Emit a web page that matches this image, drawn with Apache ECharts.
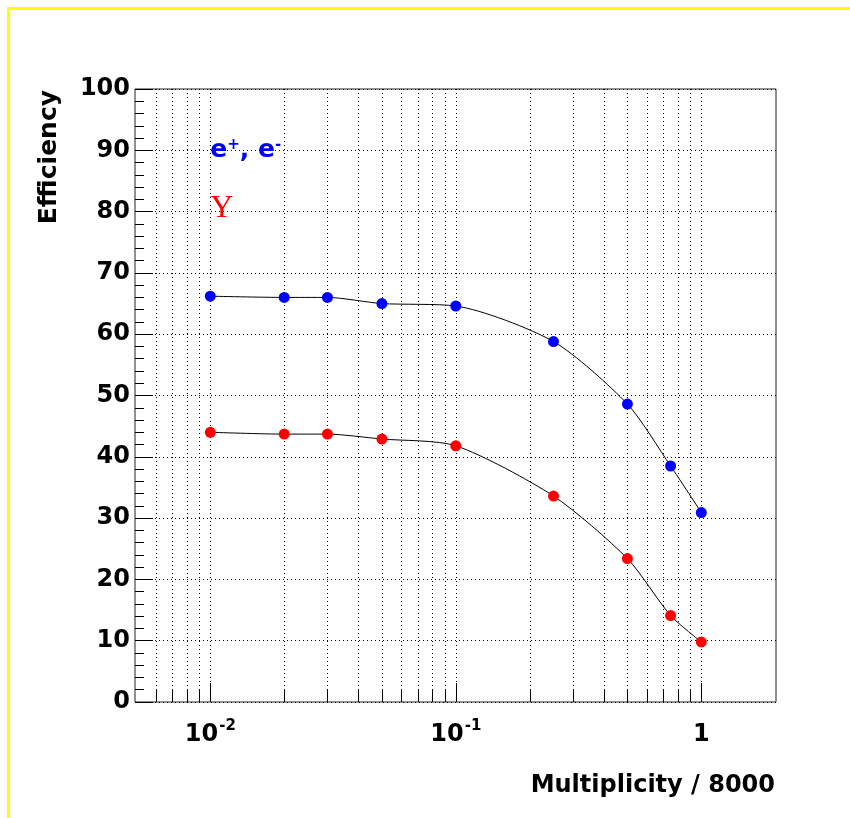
<!DOCTYPE html>
<html>
<head>
<meta charset="utf-8">
<script src="https://cdn.jsdelivr.net/npm/echarts@6/dist/echarts.min.js"></script>
<style>
  html, body { margin: 0; padding: 0; background: #ffffff; }
  #chart { width: 850px; height: 818px; }
</style>
</head>
<body>
<div id="chart"></div>
<script>
// Multiplicity (fraction of 8000) at which the efficiency was measured
const multiplicity = [0.01, 0.02, 0.03, 0.05, 0.1, 0.25, 0.5, 0.75, 1.0];
// Efficiency (%) for e+/e- and for photons
const effElectrons = [66.2, 66.0, 66.0, 65.0, 64.6, 58.8, 48.6, 38.5, 30.9];
const effPhotons   = [44.0, 43.7, 43.7, 42.9, 41.8, 33.6, 23.4, 14.1, 9.8];

// Log-axis decades that carry a label
const xMajorTicks = [0.01, 0.1, 1];
const xMajorBase  = ['10', '10', '1'];
const xMajorExp   = ['-2', '-1', ''];
// Sub-decade ticks (2..9 x 10^k) inside the range
const xMinorTicks = [0.006, 0.007, 0.008, 0.009,
                     0.02, 0.03, 0.04, 0.05, 0.06, 0.07, 0.08, 0.09,
                     0.2, 0.3, 0.4, 0.5, 0.6, 0.7, 0.8, 0.9];

// In-plot annotations: anchor (x, y) in data units
const noteX = [0.01, 0.01];
const noteY = [90, 80];

const xMin = 0.004935, xMax = 2.015;
const yMin = 0, yMax = 100, yStep = 10;

const FONT = 'DejaVu Sans';

const tickData = xMajorTicks.map(v => [v, 1]).concat(xMinorTicks.map(v => [v, 0]));

const chart = echarts.init(document.getElementById('chart'), null, { renderer: 'canvas' });

chart.setOption({
  animation: false,
  backgroundColor: '#ffffff',
  grid: {
    left: 135, top: 89, right: 74, bottom: 116,
    show: true, borderColor: '#222222', borderWidth: 1, backgroundColor: 'transparent'
  },
  xAxis: {
    type: 'log', logBase: 10, min: xMin, max: xMax,
    axisLine: { show: false },
    axisTick: { show: false },
    splitLine: { show: false },
    axisLabel: {
      showMinLabel: false, showMaxLabel: false,
      margin: 21,
      formatter: function (val) {
        for (let i = 0; i < xMajorTicks.length; i++) {
          if (Math.abs(Math.log10(val) - Math.log10(xMajorTicks[i])) < 1e-6) {
            return xMajorExp[i] ? '{n|' + xMajorBase[i] + '}{s|' + xMajorExp[i] + '}'
                                : '{n|' + xMajorBase[i] + '}';
          }
        }
        return '';
      },
      rich: {
        n: { fontFamily: FONT, fontWeight: 'bold', fontSize: 24, color: '#000', verticalAlign: 'bottom', lineHeight: 24 },
        s: { fontFamily: FONT, fontWeight: 'bold', fontSize: 15, color: '#000', verticalAlign: 'bottom', lineHeight: 15, padding: [0, 0, 13, 1] }
      }
    }
  },
  yAxis: {
    type: 'value', min: yMin, max: yMax, interval: yStep,
    axisLine: { show: false },
    axisTick: { show: true, inside: true, length: 18, lineStyle: { color: '#000', width: 1 } },
    minorTick: { show: true, splitNumber: 5, length: 9, lineStyle: { color: '#000', width: 1 } },
    splitLine: { show: true, lineStyle: { color: '#000', width: 1, type: [1, 3] } },
    axisLabel: { fontFamily: FONT, fontWeight: 'bold', fontSize: 24, color: '#000', margin: 5 }
  },
  graphic: [
    { type: 'rect', silent: true, shape: { x: 8.5, y: 8.5, width: 1000, height: 1000 },
      style: { fill: 'none', stroke: '#ffff00', lineWidth: 3 } },
    { type: 'text', x: 49, y: 90, rotation: Math.PI / 2,
      style: { text: 'Efficiency', font: 'bold 25px "' + FONT + '"', fill: '#000', textAlign: 'right', textVerticalAlign: 'middle' } },
    { type: 'text', x: 775, y: 786,
      style: { text: 'Multiplicity / 8000', font: 'bold 24px "' + FONT + '"', fill: '#000', textAlign: 'right', textVerticalAlign: 'middle' } }
  ],
  series: [
    {
      // vertical dotted grid and inward ticks at every log-axis tick position
      type: 'custom', z: 1, silent: true,
      data: tickData,
      renderItem: function (params, api) {
        const v = api.value(0);
        const major = api.value(1) === 1;
        const b = api.coord([v, yMin]);
        const t = api.coord([v, yMax]);
        const x = Math.round(b[0]) + 0.5;
        return {
          type: 'group',
          children: [
            { type: 'line', shape: { x1: x, y1: t[1], x2: x, y2: b[1] },
              style: { stroke: '#000', lineWidth: 1, lineDash: [1, 3] } },
            { type: 'line', shape: { x1: x, y1: b[1], x2: x, y2: b[1] - (major ? 19 : 12) },
              style: { stroke: '#000', lineWidth: 1 } }
          ]
        };
      }
    },
    {
      name: 'e+, e-', type: 'line', z: 3,
      data: multiplicity.map((x, i) => [x, effElectrons[i]]),
      smooth: 0.25,
      symbol: 'circle', symbolSize: 11,
      itemStyle: { color: '#0000ff' },
      lineStyle: { color: '#000', width: 1 },
      emphasis: { disabled: true }
    },
    {
      name: 'Y', type: 'line', z: 3,
      data: multiplicity.map((x, i) => [x, effPhotons[i]]),
      smooth: 0.25,
      symbol: 'circle', symbolSize: 11,
      itemStyle: { color: '#ff0000' },
      lineStyle: { color: '#000', width: 1 },
      emphasis: { disabled: true }
    },
    {
      // in-plot annotations placed at data coordinates
      type: 'custom', z: 4, silent: true,
      data: noteX.map((x, i) => [x, noteY[i], i]),
      renderItem: function (params, api) {
        const p = api.coord([api.value(0), api.value(1)]);
        const which = api.value(2);
        if (which === 0) {
          return {
            type: 'text', x: p[0], y: p[1],
            style: {
              text: '{e|e}{p|+}{e|, e}{p|-}',
              align: 'left', verticalAlign: 'middle',
              rich: {
                e: { fontFamily: FONT, fontWeight: 'bold', fontSize: 25, fill: '#0000ff', verticalAlign: 'bottom', lineHeight: 25 },
                p: { fontFamily: FONT, fontWeight: 'bold', fontSize: 15, fill: '#0000ff', verticalAlign: 'bottom', lineHeight: 15, padding: [0, 0, 10, 0] }
              }
            }
          };
        }
        return {
          type: 'text', x: p[0], y: p[1] - 3,
          style: {
            text: 'Y', align: 'left', verticalAlign: 'middle',
            font: '32px "Liberation Serif"', fill: '#ff0000'
          }
        };
      }
    }
  ]
});
</script>
</body>
</html>
